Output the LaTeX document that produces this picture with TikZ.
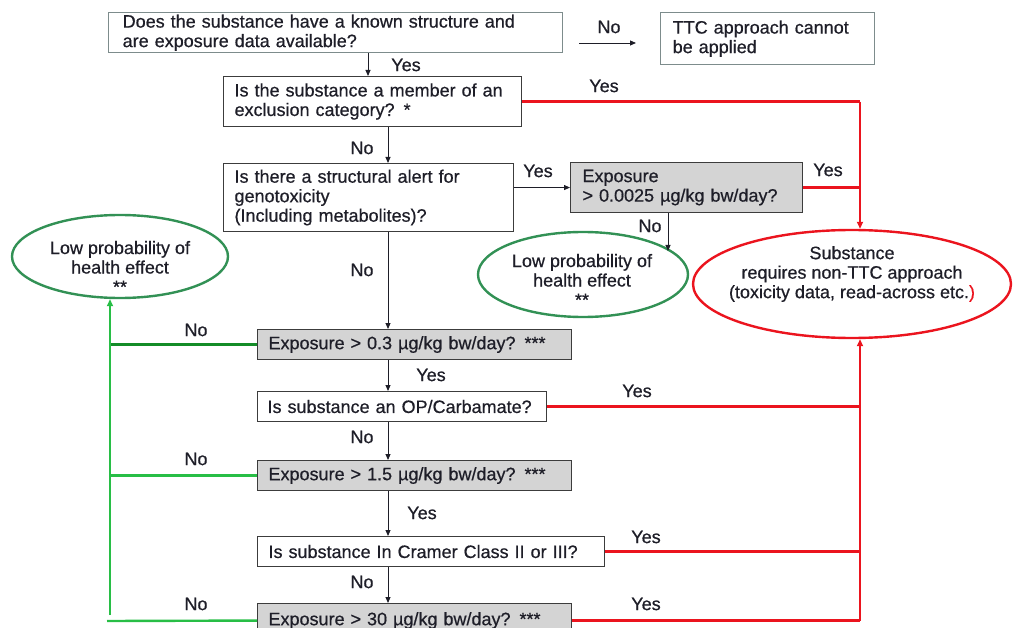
\documentclass[tikz,border=0pt]{standalone}
\usepackage{fontspec}
\setmainfont{Liberation Sans}[BoldFont=Liberation Sans,BoldFeatures={FakeBold=0.6}]
\usetikzlibrary{shapes.geometric,arrows.meta}
\definecolor{txt}{RGB}{30,30,40}
\definecolor{redc}{RGB}{235,20,30}
\definecolor{gdark}{RGB}{20,140,40}
\definecolor{glight}{RGB}{40,190,70}
\definecolor{gell}{RGB}{50,145,85}
\definecolor{gfill}{RGB}{212,212,212}
\definecolor{tealgray}{RGB}{125,140,140}
\definecolor{boxline}{RGB}{60,60,60}
\newcommand\dfont{\fontsize{18}{19.5}\selectfont\bfseries}
\begin{document}
\begin{tikzpicture}[x=1pt,y=-1pt,
  every node/.style={text=txt,font=\dfont},
  qbox/.style={draw=boxline,line width=1.1pt,fill=white,rectangle,anchor=north west,inner xsep=11pt,inner ysep=0pt,align=left},
  tbox/.style={qbox,draw=tealgray,line width=1.4pt},
  gbox/.style={qbox,fill=gfill},
  gell/.style={draw=gell,line width=2.4pt,ellipse,inner sep=0pt},
  rell/.style={draw=redc,line width=2.4pt,ellipse,inner sep=0pt},
  lbl/.style={inner sep=0pt},
  arr/.style={draw=txt,line width=0.9pt,-{Triangle[length=6pt,width=5pt]}},
  redl/.style={draw=redc,line width=3pt},
  redv/.style={draw=redc,line width=2.4pt},
  redarr/.style={redv,-{Triangle[length=7pt,width=6pt]}},
  gdl/.style={draw=gdark,line width=3pt},
  gll/.style={draw=glight,line width=2.4pt},
  garr/.style={gll,-{Triangle[length=7pt,width=6pt]}}
]
\useasboundingbox (0,0) rectangle (1014,628);
\clip (0,0) rectangle (1014,628);

% boxes
\node[tbox,inner xsep=14pt,text width=426pt,minimum height=40pt] (b1) at (108,12)
  {Does the substance have a known structure and\\are exposure data available?};
\node[tbox,inner xsep=12pt,text width=190pt,minimum height=52pt] (ttc) at (660,12)
  {TTC approach cannot\\be applied};
\node[qbox,text width=276pt,minimum height=50pt] (b2) at (223,76)
  {Is the substance a member of an\\exclusion category? *};
\node[qbox,text width=268pt,minimum height=68pt] (b3) at (223,163)
  {Is there a structural alert for\\genotoxicity\\(Including metabolites)?};
\node[gbox,inner xsep=12pt,text width=208pt,minimum height=50pt] (ex) at (570,162)
  {Exposure\\> 0.0025 µg/kg bw/day?};
\node[gbox,text width=292pt,minimum height=30pt] (e03) at (257,329)
  {Exposure > 0.3 µg/kg bw/day? ***};
\node[qbox,inner xsep=10pt,text width=269pt,minimum height=30pt] (op) at (257,391)
  {\mbox{Is substance an OP/Carbamate?}};
\node[gbox,text width=292pt,minimum height=30pt] (e15) at (257,460)
  {Exposure > 1.5 µg/kg bw/day? ***};
\node[qbox,text width=325pt,minimum height=30pt] (cr) at (257,536)
  {Is substance In Cramer Class II or III?};
\node[gbox,text width=292pt,minimum height=34pt] (e30) at (257,603)
  {Exposure > 30 µg/kg bw/day? ***};

% ellipses
\node[gell,minimum width=216pt,minimum height=83pt] (g1) at (120,256.5) {};
\node[align=center,inner sep=0pt] (g1t) at (120,267)
  {Low probability of\\health effect\\**};
\node[gell,minimum width=210pt,minimum height=85pt] (g2) at (583,274.5) {};
\node[align=center,inner sep=0pt] (g2t) at (582,280)
  {Low probability of\\health effect\\**};
\node[rell,minimum width=318pt,minimum height=108pt] (red) at (852,284) {};
\node[align=center,inner sep=0pt] (redt) at (852,274)
  {Substance\\requires non-TTC approach\\(toxicity data, read-across etc.\textcolor{redc}{)}};

% helper coordinates
\coordinate (xa) at (368,0);
\coordinate (xb) at (388,0);
\coordinate (bus) at (860,0);
\coordinate (gx) at (110,0);
\coordinate (ya) at (0,43);
\coordinate (noend) at (668,251);
\coordinate (gtop) at (110,615);
\coordinate (gbl) at (107,621);

% black arrows
\draw[arr] (b1.south -| xa) -- (b2.north -| xa);
\draw[arr,shorten <=16pt,shorten >=24pt] (b1.east |- ya) -- (ttc.west |- ya);
\draw[arr] (b2.south -| xb) -- (b3.north -| xb);
\draw[arr] (ex.west -| b3.east) -- (ex.west);
\draw[arr] (ex.south -| noend) -- (noend);
\draw[arr] (b3.south -| xb) -- (e03.north -| xb);
\draw[arr] (e03.south -| xb) -- (op.north -| xb);
\draw[arr] (op.south -| xb) -- (e15.north -| xb);
\draw[arr] (e15.south -| xb) -- (cr.north -| xb);
\draw[arr] (cr.south -| xb) -- (e30.north -| xb);

% red connectors
\draw[redl] (b2.east) -- (b2.east -| bus);
\draw[redarr] (b2.east -| bus) -- (bus |- red.north);
\draw[redl] (ex.east) -- (ex.east -| bus);
\draw[redl] (op.east) -- (op.east -| bus);
\draw[redl] (cr.east) -- (cr.east -| bus);
\draw[redl] (e30.east) -- (e30.east -| bus);
\draw[redarr] (e30.east -| bus) -- (bus |- red.south);

% green connectors
\draw[gdl] (e03.west) -- (e03.west -| gx);
\draw[gll] (e15.west) -- (e15.west -| gx);
\draw[gll] (e30.west) -- (gbl);
\draw[garr] (gtop) -- (g1.south -| gx);

% labels
\node[lbl] (l1) at (609,27) {No};
\node[lbl] (l2) at (406,65) {Yes};
\node[lbl] (l3) at (604,86) {Yes};
\node[lbl] (l4) at (362,148) {No};
\node[lbl] (l5) at (538,171) {Yes};
\node[lbl] (l6) at (828,170) {Yes};
\node[lbl] (l7) at (650,226) {No};
\node[lbl] (l8) at (362,270) {No};
\node[lbl] (l9) at (196,330) {No};
\node[lbl] (l10) at (431,375) {Yes};
\node[lbl] (l11) at (637,391) {Yes};
\node[lbl] (l12) at (362,437) {No};
\node[lbl] (l13) at (196,459) {No};
\node[lbl] (l14) at (422,513) {Yes};
\node[lbl] (l15) at (646,537) {Yes};
\node[lbl] (l16) at (362,582) {No};
\node[lbl] (l17) at (196,604) {No};
\node[lbl] (l18) at (646,604) {Yes};
\end{tikzpicture}
\end{document}
